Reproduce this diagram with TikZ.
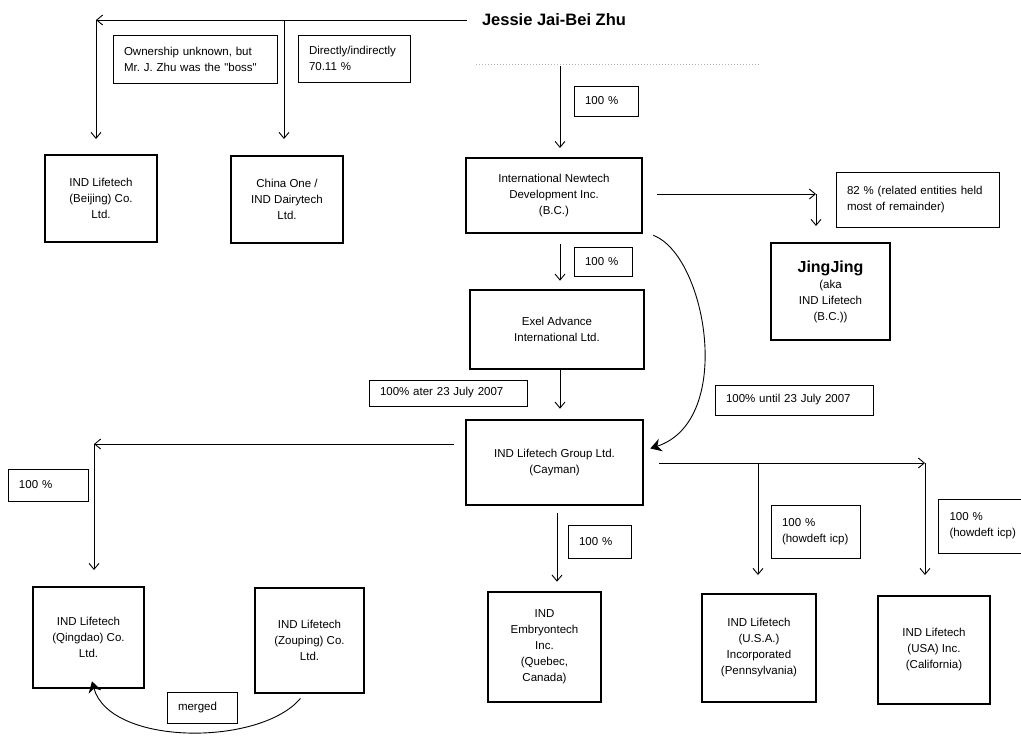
\documentclass[tikz,border=0pt]{standalone}
\usepackage{fontspec}
\setmainfont{Liberation Sans}
\usetikzlibrary{arrows.meta}
\tikzstyle{company}=[draw, line width=2.6pt, align=center, inner sep=0]
\tikzstyle{share}=[draw, line width=0.8pt, align=left, inner xsep=11pt, inner ysep=0]
\tikzstyle{own}=[line width=0.9pt, -{Straight Barb[length=6pt, width=10pt]}]
\tikzstyle{bigown}=[line width=0.9pt, -{Stealth[length=11pt, width=13pt]}]
\tikzstyle{orgchart}=[x=1pt, y=-1pt,
                      % Default font for every box and label.
                      every node/.style={font=\fontsize{11.5}{16}\selectfont}]

\begin{document}
\begin{tikzpicture}[orgchart]
    \useasboundingbox (0, 0) rectangle (1021, 737);
    \node[font=\bfseries\fontsize{16.5}{20}\selectfont, inner sep=0] (jessie) at (554, 20) {Jessie Jai-Bei Zhu};
    \draw[gray!60, dotted, line width=1pt] (476, 64) -- (760, 64);
    % companies
    \node[company, minimum width=112pt, minimum height=87pt]  (beijing)  at (101, 198.5)   {IND Lifetech\\(Beijing) Co.\\Ltd.};
    \node[company, minimum width=112pt, minimum height=87pt]  (chinaone) at (287, 199.5)   {China One /\\IND Dairytech\\Ltd.};
    \node[company, minimum width=176pt, minimum height=75pt]  (indi)     at (554, 195.5)   {International Newtech\\Development Inc.\\(B.C.)};
    \node[company, minimum width=174pt, minimum height=79pt]  (exel)     at (557, 329.5)   {Exel Advance\\International Ltd.};
    \node[company, minimum width=119pt, minimum height=97pt]  (jingjing) at (830.5, 291.5) {{\bfseries\fontsize{16}{18}\selectfont JingJing}\\(aka\\IND Lifetech\\(B.C.))};
    \node[company, minimum width=177pt, minimum height=85pt]  (cayman)   at (554.5, 462.5) {IND Lifetech Group Ltd.\\(Cayman)};
    \node[company, minimum width=111pt, minimum height=101pt] (qingdao)  at (88.5, 637.5)  {IND Lifetech\\(Qingdao) Co.\\Ltd.};
    \node[company, minimum width=109pt, minimum height=105pt] (zouping)  at (309.5, 640.5) {IND Lifetech\\(Zouping) Co.\\Ltd.};
    \node[company, minimum width=113pt, minimum height=110pt] (embryo)   at (544.5, 647)   {IND\\Embryontech\\Inc.\\(Quebec,\\Canada)};
    \node[company, minimum width=114pt, minimum height=108pt] (usapa)    at (759, 648)     {IND Lifetech\\(U.S.A.)\\Incorporated\\(Pennsylvania)};
    \node[company, minimum width=112pt, minimum height=108pt] (usaca)    at (934, 650)     {IND Lifetech\\(USA) Inc.\\(California)};
    % shareholdings
    \node[share, text width=142pt, minimum height=48pt] (unknown) at (195, 59)     {Ownership unknown, but\\Mr.\ J.\ Zhu was the \textquotedbl boss\textquotedbl};
    \node[share, text width=90pt,  minimum height=47pt] (direct)  at (354, 58.5)   {Directly/indirectly\\70.11 \%};
    \node[share, text width=42pt,  minimum height=30pt] (pindi)   at (606, 101)    {100 \%};
    \node[share, text width=36pt,  minimum height=29pt] (pexel)   at (603, 261.5)  {100 \%};
    \node[share, text width=141pt, minimum height=55pt] (pjing)   at (917.5, 199.5){82 \% (related entities held\\most of remainder)};
    \node[share, text width=136pt, minimum height=26pt] (pafter)  at (448, 393)    {100\% ater 23 July 2007};
    \node[share, text width=136pt, minimum height=30pt] (puntil)  at (794, 400)    {100\% until 23 July 2007};
    \node[share, text width=58pt,  minimum height=32pt] (pqing)   at (48, 485)     {100 \%};
    \node[share, text width=41pt,  minimum height=33pt] (pemb)    at (599.5, 541.5){100 \%};
    \node[share, text width=67pt,  minimum height=53pt] (ppa)     at (815.5, 531.5){100 \%\\(howdeft icp)};
    \node[share, text width=73pt,  minimum height=54pt] (pca)     at (986, 526)    {100 \%\\(howdeft icp)};
    \node[share, text width=48pt,  minimum height=31pt] (merged)  at (202, 707.5)  {merged};
    % bends and free arrow ends
    \coordinate (jsplit)  at (96, 20);
    \coordinate (jbranch) at (284, 20);
    \coordinate (tobeij)  at (96, 139);
    \coordinate (tochina) at (284, 139);
    \coordinate (jsrc)    at (560, 66);
    \coordinate (toindi)  at (560, 148);
    \coordinate (jbend)   at (816, 194);
    \coordinate (tojing)  at (816, 226);
    \coordinate (qbend)   at (94, 444);
    \coordinate (toqing)  at (94, 570);
    \coordinate (rbend)   at (925, 463);
    \coordinate (rbranch) at (758, 463);
    \coordinate (topa)    at (758, 575);
    \coordinate (toca)    at (925, 575);
    \draw[own, shorten <=15pt] (jessie.west) -- (jsplit);
    \draw[own] (jsplit) -- (tobeij);
    \draw[own] (jbranch) -- (tochina);
    \draw[own] (jsrc) -- (toindi);
    \draw[own, shorten <=14pt] (indi.east |- jbend) -- (jbend);
    \draw[own] (jbend) -- (tojing);
    \draw[own, shorten <=10pt, shorten >=8pt] (indi.south -| toindi) -- (exel.north -| toindi);
    \draw[own, shorten >=10pt] (exel.south -| toindi) -- (cayman.north -| toindi);
    \draw[bigown] ([xshift=10pt, yshift=-1pt]indi.south east) .. controls +(53, 20) and +(85, -28) .. ([xshift=6pt, yshift=14pt]cayman.east);
    \draw[own, shorten <=11pt] (cayman.west |- qbend) -- (qbend);
    \draw[own] (qbend) -- (toqing);
    \draw[own, shorten <=15pt] (cayman.east |- rbend) -- (rbend);
    \draw[own] (rbend) -- (toca);
    \draw[own] (rbranch) -- (topa);
    \draw[own, shorten <=7pt, shorten >=9pt] ([xshift=2.5pt]cayman.south) -- ([xshift=12.5pt]embryo.north);
    \draw[bigown] ([xshift=-9pt, yshift=-4pt]zouping.south) .. controls +(-40, 48) and +(18, 65) .. ([xshift=3.5pt, yshift=8pt]qingdao.south);
\end{tikzpicture}
\end{document}
